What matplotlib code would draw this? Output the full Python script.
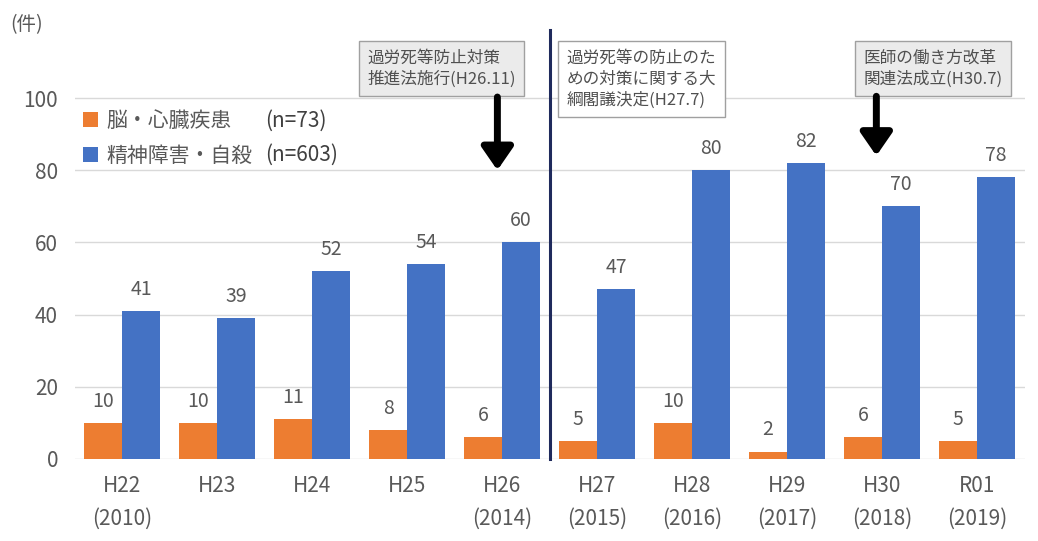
import numpy as np
import matplotlib.pyplot as plt
import matplotlib as mpl

# data
years = ['H22\n(2010)', 'H23', 'H24', 'H25', 'H26\n(2014)', 'H27\n(2015)',
         'H28\n(2016)', 'H29\n(2017)', 'H30\n(2018)', 'R01\n(2019)']
brain_heart = [10, 10, 11, 8, 6, 5, 10, 2, 6, 5]
mental = [41, 39, 52, 54, 60, 47, 80, 82, 70, 78]
label_bh = '脳・心臓疾患'
label_mh = '精神障害・自殺'
n_bh = '(n=73)'
n_mh = '(n=603)'

# style
mpl.rcParams['font.family'] = ['Noto Sans CJK JP', 'DejaVu Sans']
grey = '#595959'
c_or = '#ED7D31'
c_bl = '#4472C4'

fig = plt.figure(figsize=(10.38, 5.41), dpi=100)
ax = fig.add_axes([0.072, 0.152, 0.915, 0.80])

x = np.arange(len(years))
w = 0.4
b1 = ax.bar(x - w/2, brain_heart, w, color=c_or, label=label_bh, zorder=2)
b2 = ax.bar(x + w/2, mental, w, color=c_bl, label=label_mh, zorder=2)

for bars, vals in ((b1, brain_heart), (b2, mental)):
    for r, v in zip(bars, vals):
        ax.annotate(str(v), (r.get_x() + r.get_width()/2, v), xytext=(0, 8),
                    textcoords='offset points', ha='center', va='bottom',
                    fontsize=14, color=grey)

ax.set_xlim(-0.5, 9.5)
ax.set_ylim(0, 120)
ax.set_yticks(range(0, 101, 20))
ax.set_xticks(x)
ax.set_xticklabels(years, linespacing=1.6)
ax.tick_params(axis='both', length=0, labelsize=15, labelcolor=grey)
ax.tick_params(axis='x', pad=12)
ax.tick_params(axis='y', pad=12)
for s in ax.spines.values():
    s.set_visible(False)
for yv in range(0, 101, 20):
    ax.axhline(yv, color='#d9d9d9', lw=1, zorder=1)

# divider
ax.plot([4.5, 4.5], [0, 119], color='#1f2a5c', lw=2.2, zorder=3, clip_on=False)

# legend
leg = ax.legend(loc='upper left', bbox_to_anchor=(0.0, 0.825), frameon=False,
                fontsize=15, labelcolor=grey, handlelength=0.7, handleheight=0.7,
                handletextpad=0.4, labelspacing=0.62, borderaxespad=0)
ax.text(1.5, 93.8, n_bh, fontsize=15, color='#404040', va='center')
ax.text(1.5, 84.2, n_mh, fontsize=15, color='#404040', va='center')

# annotation boxes
box_kw = dict(fontsize=12, color='#505050', va='top', ha='left', linespacing=1.3)
ax.text(2.58, 113.5, '過労死等防止対策\n推進法施行(H26.11)',
        bbox=dict(boxstyle='square,pad=0.5', fc='#ebebeb', ec='#a0a0a0', lw=1), **box_kw)
ax.text(4.68, 113.5, '過労死等の防止のた\nめの対策に関する大\n綱閣議決定(H27.7)',
        bbox=dict(boxstyle='square,pad=0.5', fc='white', ec='#a0a0a0', lw=1), **box_kw)
ax.text(7.80, 113.5, '医師の働き方改革\n関連法成立(H30.7)',
        bbox=dict(boxstyle='square,pad=0.5', fc='#ebebeb', ec='#a0a0a0', lw=1), **box_kw)

# arrows
arw = dict(arrowstyle='-|>,head_length=0.55,head_width=0.38', color='black', lw=5,
           mutation_scale=25, shrinkA=0, shrinkB=0)
ax.annotate('', xy=(3.95, 80), xytext=(3.95, 100.3), arrowprops=arw)
ax.annotate('', xy=(7.94, 84), xytext=(7.94, 100.5), arrowprops=arw)

fig.text(0.01, 0.955, '(件)', fontsize=14, color=grey, va='center')

fig.savefig('out.png', dpi=100)
